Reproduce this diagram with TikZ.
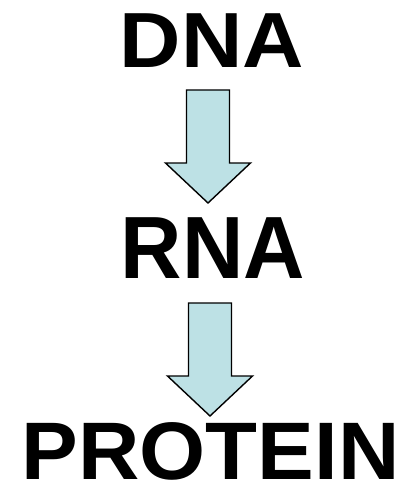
\documentclass[tikz,border=0pt]{standalone}
\usepackage{fontspec}
\setmainfont{Liberation Sans}
\definecolor{shaftblue}{RGB}{189,225,229}
\tikzset{
  word/.style={anchor=base,inner sep=0pt,font=\bfseries\fontsize{85}{85}\selectfont},
  flowarrow/.style={draw=black,fill=shaftblue,line width=1.4pt,line join=miter}
}
% block arrow hanging down from a named top point
\newcommand\downblock[1]{%
  \draw[flowarrow,shift={(#1)}] (-21.5,0) -- (-21.5,73) -- (-42.5,73) -- (0,113)
    -- (42.5,73) -- (21.5,73) -- (21.5,0) -- cycle;}
\begin{document}
\begin{tikzpicture}[x=1pt,y=-1pt]
  \useasboundingbox (0,0) rectangle (407,484);
  % the three words
  \node[word,yscale=0.92] (dna) at (212,68) {DNA};
  \node[word,yscale=1.04] (rna) at (213,278) {RNA};
  \node[word,yscale=0.96] (protein) at (210.5,479.5) {PROTEIN};
  % arrows between them
  \coordinate (dnaout) at (208,90);
  \coordinate (rnaout) at (210,303);
  \downblock{dnaout}
  \downblock{rnaout}
\end{tikzpicture}
\end{document}
